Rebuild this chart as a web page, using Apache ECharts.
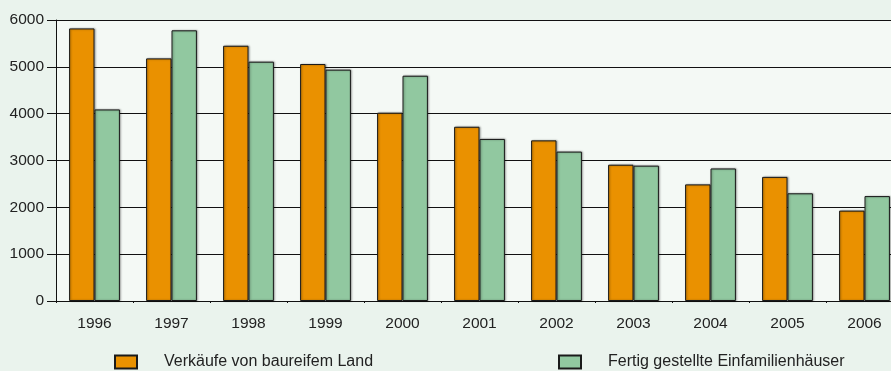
<!DOCTYPE html>
<html><head><meta charset="utf-8">
<script src="https://cdn.jsdelivr.net/npm/echarts@6/dist/echarts.min.js"></script>
<style>html,body{margin:0;padding:0;background:#eaf3ed;}#c{width:891px;height:371px;}</style>
</head><body><div id="c"></div>
<script>
const categories = ['1996','1997','1998','1999','2000','2001','2002','2003','2004','2005','2006'];
const verkaeufe = [5820,5180,5450,5060,4020,3720,3430,2910,2490,2650,1930];
const einfamilien = [4090,5780,5110,4940,4810,3460,3190,2890,2830,2300,2240];
const yTicks = [0,1000,2000,3000,4000,5000,6000];
const seriesNames = ['Verkäufe von baureifem Land','Fertig gestellte Einfamilienhäuser'];

const chart = echarts.init(document.getElementById('c'), null, {renderer:'canvas'});
const font = 'Liberation Sans, Arial, sans-serif';
const barShadow = {shadowColor:'rgba(0,0,0,0.35)', shadowBlur:2, shadowOffsetX:1, shadowOffsetY:0};
chart.setOption({
  backgroundColor:'#eaf3ed',
  animation:false,
  grid:{left:56, top:20, right:-12, bottom:70, show:true, backgroundColor:'#f4f9f5', borderWidth:0,
        outerBoundsMode:'none', containLabel:false},
  legend:[
    {data:[seriesNames[0]], left:114, top:354, padding:0, itemWidth:22, itemHeight:13, icon:'rect',
     textStyle:{fontFamily:font, fontSize:16, color:'#222', padding:[0,0,0,22]}, selectedMode:false},
    {data:[seriesNames[1]], left:558, top:354, padding:0, itemWidth:22, itemHeight:13, icon:'rect',
     textStyle:{fontFamily:font, fontSize:16, color:'#222', padding:[0,0,0,22]}, selectedMode:false}
  ],
  xAxis:{type:'category', data:categories,
    axisLine:{lineStyle:{color:'#111', width:1}},
    axisTick:{show:true, length:2, lineStyle:{color:'#111'}},
    axisLabel:{fontFamily:font, fontSize:15.5, color:'#222', margin:15}},
  yAxis:{type:'value', min:yTicks[0], max:yTicks[yTicks.length-1], interval:1000,
    axisLine:{show:true, lineStyle:{color:'#111', width:1}},
    axisTick:{show:true, length:9, lineStyle:{color:'#111'}},
    splitLine:{lineStyle:{color:'#111', width:1}},
    axisLabel:{fontFamily:font, fontSize:15.5, color:'#222', margin:12, formatter:v => String(v)}},
  series:[
    {name:seriesNames[0], type:'bar', data:verkaeufe, barGap:'0%', barCategoryGap:'34%',
     itemStyle:Object.assign({color:'#ea9100', borderColor:'#1a1a1a', borderWidth:1}, barShadow)},
    {name:seriesNames[1], type:'bar', data:einfamilien, barGap:'0%', barCategoryGap:'34%',
     itemStyle:Object.assign({color:'#91c8a0', borderColor:'#1a1a1a', borderWidth:1}, barShadow)}
  ]
});
</script></body></html>
